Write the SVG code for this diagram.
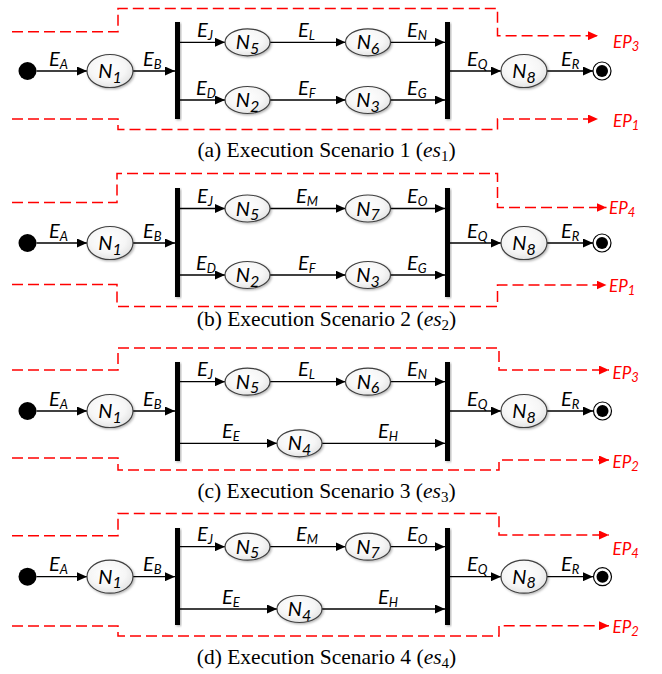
<svg xmlns="http://www.w3.org/2000/svg" width="662" height="674" viewBox="0 0 662 674">
<defs>
  <marker id="ah" viewBox="0 0 10 9" refX="10" refY="4.5" markerWidth="10" markerHeight="9" markerUnits="userSpaceOnUse" orient="auto"><path d="M0,0 L10,4.5 L0,9 z" fill="#000"/></marker>
  <marker id="ahr" viewBox="0 0 10 9" refX="10" refY="4.5" markerWidth="10" markerHeight="9" markerUnits="userSpaceOnUse" orient="auto"><path d="M0,0 L10,4.5 L0,9 z" fill="#ff0000"/></marker>
  <radialGradient id="ng" cx="0.45" cy="0.4" r="0.65"><stop offset="0" stop-color="#ffffff"/><stop offset="0.6" stop-color="#f6f6f6"/><stop offset="1" stop-color="#e0e0e0"/></radialGradient>
  <filter id="sh" x="-30%" y="-30%" width="160%" height="160%"><feDropShadow dx="1.2" dy="1.2" stdDeviation="0.8" flood-color="#000" flood-opacity="0.3"/></filter>
</defs>
<style>
  .e { stroke:#000; stroke-width:1.3; fill:none; marker-end:url(#ah); }
  .ep { stroke:#ff0000; stroke-width:1.5; fill:none; stroke-dasharray:11 5; marker-end:url(#ahr); }
  .node ellipse { fill:url(#ng); stroke:#404040; stroke-width:1.2; filter:url(#sh); }
  .bar { fill:#000; filter:url(#sh); }
  .t { font-family: Lato, "Open Sans", "DejaVu Sans", sans-serif; font-style: italic; font-size: 20px; fill:#000; }
  .nl { text-anchor: middle; }
  .s { font-size: 13px; }
  .ns { font-size: 16px; }
  .rt { fill:#ff0000; font-size: 17px; }
  .cap { font-family: "Liberation Serif", "Times New Roman", serif; font-size: 21.5px; text-anchor: middle; fill:#000; }
</style>
<rect width="662" height="674" fill="#fff"/>

<!-- ===== Scenario 1 ===== -->
<g id="scenario-1">
  <g id="es1-connectors">
    <line class="e" x1="36.5" y1="71" x2="87" y2="71"/>
    <line class="e" x1="133" y1="71" x2="175" y2="71"/>
    <line class="e" x1="180" y1="42.3" x2="225" y2="42.3"/>
    <line class="e" x1="270" y1="42.3" x2="345.5" y2="42.3"/>
    <line class="e" x1="390.5" y1="42.3" x2="445" y2="42.3"/>
    <line class="e" x1="180" y1="100" x2="225" y2="100"/>
    <line class="e" x1="270" y1="100" x2="345.5" y2="100"/>
    <line class="e" x1="390.5" y1="100" x2="445" y2="100"/>
    <line class="e" x1="450" y1="71" x2="501" y2="71"/>
    <line class="e" x1="547" y1="71" x2="593" y2="71"/>
    <path class="ep" d="M12 31.7 H118 V8.5 H497.5 V35.7 H598"/>
    <path class="ep" d="M12 119 H118 V129.5 H497.5 V119 H598"/>
    <text class="t" x="49" y="65.5">E<tspan class="s" dy="3">A</tspan></text>
    <text class="t" x="143" y="65.5">E<tspan class="s" dy="3">B</tspan></text>
    <text class="t" x="197" y="37">E<tspan class="s" dy="3">J</tspan></text>
    <text class="t" x="298" y="37">E<tspan class="s" dy="3">L</tspan></text>
    <text class="t" x="407" y="37">E<tspan class="s" dy="3">N</tspan></text>
    <text class="t" x="196" y="94.5">E<tspan class="s" dy="3">D</tspan></text>
    <text class="t" x="298" y="94.5">E<tspan class="s" dy="3">F</tspan></text>
    <text class="t" x="407" y="94.5">E<tspan class="s" dy="3">G</tspan></text>
    <text class="t" x="467" y="65.5">E<tspan class="s" dy="3">Q</tspan></text>
    <text class="t" x="561" y="65.5">E<tspan class="s" dy="3">R</tspan></text>
    <text class="t rt" x="613" y="48">EP<tspan class="s" dy="3">3</tspan></text>
    <text class="t rt" x="613" y="127">EP<tspan class="s" dy="3">1</tspan></text>
  </g>
  <g id="es1-start"><circle cx="27.5" cy="71" r="9" fill="#000"/></g>
  <g id="es1-n1" class="node"><ellipse cx="110" cy="71" rx="23" ry="16.5"/><text class="t nl" x="110" y="78">N<tspan class="ns" dy="4.5">1</tspan></text></g>
  <g id="es1-fork"><rect class="bar" x="175" y="22" width="5" height="97"/></g>
  <g id="es1-n5" class="node"><ellipse cx="247.5" cy="42.3" rx="22.5" ry="13.5"/><text class="t nl" x="247.5" y="49.3">N<tspan class="ns" dy="4.5">5</tspan></text></g>
  <g id="es1-n6" class="node"><ellipse cx="368" cy="42.3" rx="22.5" ry="13.5"/><text class="t nl" x="368" y="49.3">N<tspan class="ns" dy="4.5">6</tspan></text></g>
  <g id="es1-n2" class="node"><ellipse cx="247.5" cy="100" rx="22.5" ry="13.5"/><text class="t nl" x="247.5" y="107">N<tspan class="ns" dy="4.5">2</tspan></text></g>
  <g id="es1-n3" class="node"><ellipse cx="368" cy="100" rx="22.5" ry="13.5"/><text class="t nl" x="368" y="107">N<tspan class="ns" dy="4.5">3</tspan></text></g>
  <g id="es1-join"><rect class="bar" x="445" y="22" width="5" height="97"/></g>
  <g id="es1-n8" class="node"><ellipse cx="524" cy="71" rx="23" ry="16.5"/><text class="t nl" x="524" y="78">N<tspan class="ns" dy="4.5">8</tspan></text></g>
  <g id="es1-end"><circle cx="602" cy="71" r="9" fill="#fff" stroke="#000" stroke-width="1.2"/><circle cx="602" cy="71" r="6" fill="#000"/></g>
  <text class="cap" x="326.5" y="157">(a) Execution Scenario 1 (<tspan font-style="italic">es</tspan><tspan font-size="15" dy="4">1</tspan><tspan dy="-4">)</tspan></text>
</g>

<!-- ===== Scenario 2 ===== -->
<g id="scenario-2">
  <g id="es2-connectors">
    <line class="e" x1="36.5" y1="243" x2="87" y2="243"/>
    <line class="e" x1="133" y1="243" x2="175" y2="243"/>
    <line class="e" x1="180" y1="208.5" x2="225" y2="208.5"/>
    <line class="e" x1="270" y1="208.5" x2="345.5" y2="208.5"/>
    <line class="e" x1="390.5" y1="208.5" x2="445" y2="208.5"/>
    <line class="e" x1="180" y1="275" x2="225" y2="275"/>
    <line class="e" x1="270" y1="275" x2="345.5" y2="275"/>
    <line class="e" x1="390.5" y1="275" x2="445" y2="275"/>
    <line class="e" x1="450" y1="243" x2="501" y2="243"/>
    <line class="e" x1="547" y1="243" x2="593" y2="243"/>
    <path class="ep" d="M12 202.5 H117 V173.5 H497.5 V207.5 H606.5"/>
    <path class="ep" d="M12 284.5 H117 V306.5 H497.5 V285 H606.5"/>
    <text class="t" x="49" y="237.5">E<tspan class="s" dy="3">A</tspan></text>
    <text class="t" x="143" y="237.5">E<tspan class="s" dy="3">B</tspan></text>
    <text class="t" x="197" y="203">E<tspan class="s" dy="3">J</tspan></text>
    <text class="t" x="296" y="203">E<tspan class="s" dy="3">M</tspan></text>
    <text class="t" x="407" y="203">E<tspan class="s" dy="3">O</tspan></text>
    <text class="t" x="196" y="269.5">E<tspan class="s" dy="3">D</tspan></text>
    <text class="t" x="298" y="269.5">E<tspan class="s" dy="3">F</tspan></text>
    <text class="t" x="407" y="269.5">E<tspan class="s" dy="3">G</tspan></text>
    <text class="t" x="467" y="237.5">E<tspan class="s" dy="3">Q</tspan></text>
    <text class="t" x="561" y="237.5">E<tspan class="s" dy="3">R</tspan></text>
    <text class="t rt" x="609" y="214">EP<tspan class="s" dy="3">4</tspan></text>
    <text class="t rt" x="609" y="291.5">EP<tspan class="s" dy="3">1</tspan></text>
  </g>
  <g id="es2-start"><circle cx="27.5" cy="243" r="9" fill="#000"/></g>
  <g id="es2-n1" class="node"><ellipse cx="110" cy="243" rx="23" ry="16.5"/><text class="t nl" x="110" y="250">N<tspan class="ns" dy="4.5">1</tspan></text></g>
  <g id="es2-fork"><rect class="bar" x="175" y="188" width="5" height="109"/></g>
  <g id="es2-n5" class="node"><ellipse cx="247.5" cy="208.5" rx="22.5" ry="13.5"/><text class="t nl" x="247.5" y="215.5">N<tspan class="ns" dy="4.5">5</tspan></text></g>
  <g id="es2-n7" class="node"><ellipse cx="368" cy="208.5" rx="22.5" ry="13.5"/><text class="t nl" x="368" y="215.5">N<tspan class="ns" dy="4.5">7</tspan></text></g>
  <g id="es2-n2" class="node"><ellipse cx="247.5" cy="275" rx="22.5" ry="13.5"/><text class="t nl" x="247.5" y="282">N<tspan class="ns" dy="4.5">2</tspan></text></g>
  <g id="es2-n3" class="node"><ellipse cx="368" cy="275" rx="22.5" ry="13.5"/><text class="t nl" x="368" y="282">N<tspan class="ns" dy="4.5">3</tspan></text></g>
  <g id="es2-join"><rect class="bar" x="445" y="188" width="5" height="109"/></g>
  <g id="es2-n8" class="node"><ellipse cx="524" cy="243" rx="23" ry="16.5"/><text class="t nl" x="524" y="250">N<tspan class="ns" dy="4.5">8</tspan></text></g>
  <g id="es2-end"><circle cx="602" cy="243" r="9" fill="#fff" stroke="#000" stroke-width="1.2"/><circle cx="602" cy="243" r="6" fill="#000"/></g>
  <text class="cap" x="326.5" y="326">(b) Execution Scenario 2 (<tspan font-style="italic">es</tspan><tspan font-size="15" dy="4">2</tspan><tspan dy="-4">)</tspan></text>
</g>

<!-- ===== Scenario 3 ===== -->
<g id="scenario-3">
  <g id="es3-connectors">
    <line class="e" x1="36.5" y1="411" x2="87" y2="411"/>
    <line class="e" x1="133" y1="411" x2="175" y2="411"/>
    <line class="e" x1="180" y1="381.7" x2="225" y2="381.7"/>
    <line class="e" x1="270" y1="381.7" x2="345.5" y2="381.7"/>
    <line class="e" x1="390.5" y1="381.7" x2="445" y2="381.7"/>
    <line class="e" x1="180" y1="443.3" x2="277" y2="443.3"/>
    <line class="e" x1="322" y1="443.3" x2="445" y2="443.3"/>
    <line class="e" x1="450" y1="411" x2="501" y2="411"/>
    <line class="e" x1="547" y1="411" x2="593" y2="411"/>
    <path class="ep" d="M12 370 H118 V348 H499 V370 H609"/>
    <path class="ep" d="M12 458 H118 V470 H499 V460 H609"/>
    <text class="t" x="49" y="405.5">E<tspan class="s" dy="3">A</tspan></text>
    <text class="t" x="143" y="405.5">E<tspan class="s" dy="3">B</tspan></text>
    <text class="t" x="197" y="376.2">E<tspan class="s" dy="3">J</tspan></text>
    <text class="t" x="298" y="376.2">E<tspan class="s" dy="3">L</tspan></text>
    <text class="t" x="407" y="376.2">E<tspan class="s" dy="3">N</tspan></text>
    <text class="t" x="222" y="437.8">E<tspan class="s" dy="3">E</tspan></text>
    <text class="t" x="378" y="437.8">E<tspan class="s" dy="3">H</tspan></text>
    <text class="t" x="467" y="405.5">E<tspan class="s" dy="3">Q</tspan></text>
    <text class="t" x="561" y="405.5">E<tspan class="s" dy="3">R</tspan></text>
    <text class="t rt" x="612.5" y="379">EP<tspan class="s" dy="3">3</tspan></text>
    <text class="t rt" x="612.5" y="467.5">EP<tspan class="s" dy="3">2</tspan></text>
  </g>
  <g id="es3-start"><circle cx="27.5" cy="411" r="9" fill="#000"/></g>
  <g id="es3-n1" class="node"><ellipse cx="110" cy="411" rx="23" ry="16.5"/><text class="t nl" x="110" y="418">N<tspan class="ns" dy="4.5">1</tspan></text></g>
  <g id="es3-fork"><rect class="bar" x="175" y="362" width="5" height="99"/></g>
  <g id="es3-n5" class="node"><ellipse cx="247.5" cy="381.7" rx="22.5" ry="13.5"/><text class="t nl" x="247.5" y="388.7">N<tspan class="ns" dy="4.5">5</tspan></text></g>
  <g id="es3-n6" class="node"><ellipse cx="368" cy="381.7" rx="22.5" ry="13.5"/><text class="t nl" x="368" y="388.7">N<tspan class="ns" dy="4.5">6</tspan></text></g>
  <g id="es3-n4" class="node"><ellipse cx="299.5" cy="443.3" rx="22.5" ry="13.5"/><text class="t nl" x="299.5" y="450.3">N<tspan class="ns" dy="4.5">4</tspan></text></g>
  <g id="es3-join"><rect class="bar" x="445" y="362" width="5" height="99"/></g>
  <g id="es3-n8" class="node"><ellipse cx="524" cy="411" rx="23" ry="16.5"/><text class="t nl" x="524" y="418">N<tspan class="ns" dy="4.5">8</tspan></text></g>
  <g id="es3-end"><circle cx="602.5" cy="411" r="9" fill="#fff" stroke="#000" stroke-width="1.2"/><circle cx="602.5" cy="411" r="6" fill="#000"/></g>
  <text class="cap" x="326.5" y="497.5">(c) Execution Scenario 3 (<tspan font-style="italic">es</tspan><tspan font-size="15" dy="4">3</tspan><tspan dy="-4">)</tspan></text>
</g>

<!-- ===== Scenario 4 ===== -->
<g id="scenario-4">
  <g id="es4-connectors">
    <line class="e" x1="36.5" y1="576.7" x2="87" y2="576.7"/>
    <line class="e" x1="133" y1="576.7" x2="175" y2="576.7"/>
    <line class="e" x1="180" y1="546.7" x2="225" y2="546.7"/>
    <line class="e" x1="270" y1="546.7" x2="345.5" y2="546.7"/>
    <line class="e" x1="390.5" y1="546.7" x2="445" y2="546.7"/>
    <line class="e" x1="180" y1="609" x2="277" y2="609"/>
    <line class="e" x1="322" y1="609" x2="445" y2="609"/>
    <line class="e" x1="450" y1="576.7" x2="501" y2="576.7"/>
    <line class="e" x1="547" y1="576.7" x2="593" y2="576.7"/>
    <path class="ep" d="M12 535.7 H118 V513.5 H499 V535 H609"/>
    <path class="ep" d="M12 626 H118 V636 H499 V625.7 H609"/>
    <text class="t" x="49" y="571.2">E<tspan class="s" dy="3">A</tspan></text>
    <text class="t" x="143" y="571.2">E<tspan class="s" dy="3">B</tspan></text>
    <text class="t" x="197" y="541.2">E<tspan class="s" dy="3">J</tspan></text>
    <text class="t" x="296" y="541.2">E<tspan class="s" dy="3">M</tspan></text>
    <text class="t" x="407" y="541.2">E<tspan class="s" dy="3">O</tspan></text>
    <text class="t" x="222" y="603.5">E<tspan class="s" dy="3">E</tspan></text>
    <text class="t" x="378" y="603.5">E<tspan class="s" dy="3">H</tspan></text>
    <text class="t" x="467" y="571.2">E<tspan class="s" dy="3">Q</tspan></text>
    <text class="t" x="561" y="571.2">E<tspan class="s" dy="3">R</tspan></text>
    <text class="t rt" x="612.5" y="555">EP<tspan class="s" dy="3">4</tspan></text>
    <text class="t rt" x="612.5" y="632.5">EP<tspan class="s" dy="3">2</tspan></text>
  </g>
  <g id="es4-start"><circle cx="27.5" cy="576.7" r="9" fill="#000"/></g>
  <g id="es4-n1" class="node"><ellipse cx="110" cy="576.7" rx="23" ry="16.5"/><text class="t nl" x="110" y="583.7">N<tspan class="ns" dy="4.5">1</tspan></text></g>
  <g id="es4-fork"><rect class="bar" x="175" y="528" width="5" height="97"/></g>
  <g id="es4-n5" class="node"><ellipse cx="247.5" cy="546.7" rx="22.5" ry="13.5"/><text class="t nl" x="247.5" y="553.7">N<tspan class="ns" dy="4.5">5</tspan></text></g>
  <g id="es4-n7" class="node"><ellipse cx="368" cy="546.7" rx="22.5" ry="13.5"/><text class="t nl" x="368" y="553.7">N<tspan class="ns" dy="4.5">7</tspan></text></g>
  <g id="es4-n4" class="node"><ellipse cx="299.5" cy="609" rx="22.5" ry="13.5"/><text class="t nl" x="299.5" y="616">N<tspan class="ns" dy="4.5">4</tspan></text></g>
  <g id="es4-join"><rect class="bar" x="445" y="528" width="5" height="97"/></g>
  <g id="es4-n8" class="node"><ellipse cx="524" cy="576.7" rx="23" ry="16.5"/><text class="t nl" x="524" y="583.7">N<tspan class="ns" dy="4.5">8</tspan></text></g>
  <g id="es4-end"><circle cx="602.5" cy="576.7" r="9" fill="#fff" stroke="#000" stroke-width="1.2"/><circle cx="602.5" cy="576.7" r="6" fill="#000"/></g>
  <text class="cap" x="326.5" y="664">(d) Execution Scenario 4 (<tspan font-style="italic">es</tspan><tspan font-size="15" dy="4">4</tspan><tspan dy="-4">)</tspan></text>
</g>
</svg>
